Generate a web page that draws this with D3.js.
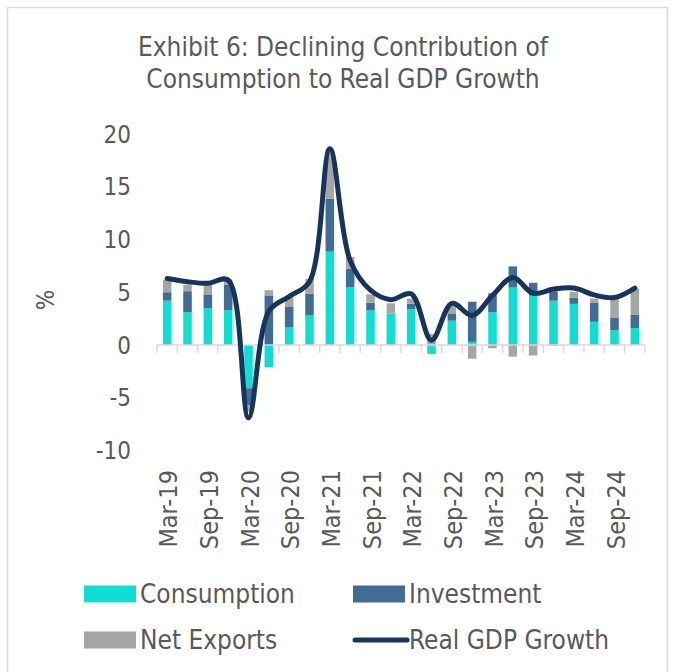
<!DOCTYPE html>
<html>
<head>
<meta charset="utf-8">
<script src="https://cdn.jsdelivr.net/npm/d3@7"></script>
<style>
  html, body { margin: 0; padding: 0; background: #fff; }
  svg { display: block; }
  text { font-family: "DejaVu Sans Condensed", "DejaVu Sans", sans-serif; font-stretch: condensed; fill: #595959; }
</style>
</head>
<body>
<svg id="chart" width="674" height="672"></svg>
<script>
const categories = ["Mar-19","Jun-19","Sep-19","Dec-19","Mar-20","Jun-20","Sep-20","Dec-20",
  "Mar-21","Jun-21","Sep-21","Dec-21","Mar-22","Jun-22","Sep-22","Dec-22",
  "Mar-23","Jun-23","Sep-23","Dec-23","Mar-24","Jun-24","Sep-24","Dec-24"];
const consumption = [4.2, 3.1, 3.5, 3.3, -4.1, -2.1, 1.7, 2.8, 8.85, 5.5, 3.3, 3.0, 3.4, -0.85, 2.3, 0.3, 3.1, 5.45, 4.7, 4.2, 3.9, 2.2, 1.4, 1.6];
const investment  = [0.8, 2.0, 1.3, 2.4, -1.6, 4.7, 1.95, 2.05, 5.0, 1.75, 0.7, 0.0, 0.5, 0.0, 0.7, 3.8, 1.8, 2.0, 1.2, 0.9, 0.6, 1.8, 1.2, 1.25];
const netExports  = [1.2, 0.6, 0.9, 0.5, -0.6, 0.5, 0.95, 1.4, 4.7, 1.1, 0.8, 0.95, 0.5, 1.05, 0.7, -1.3, -0.3, -1.1, -1.0, -0.1, 0.55, 0.4, 1.75, 2.5];
const gdpGrowth   = [6.3, 6.0, 5.85, 6.15, -6.9, 3.2, 4.6, 6.0, 18.6, 8.0, 5.2, 4.3, 4.85, 0.45, 3.95, 2.8, 4.7, 6.4, 4.9, 5.3, 5.4, 4.75, 4.5, 5.4];
const yTicks = [-10, -5, 0, 5, 10, 15, 20];
const xLabels = ["Mar-19","Sep-19","Mar-20","Sep-20","Mar-21","Sep-21","Mar-22","Sep-22","Mar-23","Sep-23","Mar-24","Sep-24"];
const seriesNames = ["Consumption", "Investment", "Net Exports"];
const title = ["Exhibit 6: Declining Contribution of", "Consumption to Real GDP Growth"];

const colors = { "Consumption": "#11DDD3", "Investment": "#416C94", "Net Exports": "#A6A6A6" };
const lineColor = "#17355A";

const svg = d3.select("#chart");

// outer border
svg.append("rect").attr("x", 7.5).attr("y", 7.5).attr("width", 660).attr("height", 700)
  .attr("fill", "none").attr("stroke", "#D9D9D9").attr("stroke-width", 1.5);

// title
svg.append("g").selectAll("text").data(title).join("text")
  .attr("x", 343).attr("y", (d, i) => 56 + i * 32)
  .attr("text-anchor", "middle").attr("font-size", 26).text(d => d);

const x = d3.scaleBand().domain(categories).range([157, 645]).paddingInner(0.58).paddingOuter(0.29);
const y = d3.scaleLinear().domain([-10, 20]).range([450.5, 134]);

const table = categories.map((c, i) => ({ cat: c, "Consumption": consumption[i], "Investment": investment[i], "Net Exports": netExports[i] }));
const stacked = d3.stack().keys(seriesNames).offset(d3.stackOffsetDiverging)(table);

// bars
svg.append("g").selectAll("g").data(stacked).join("g")
  .attr("fill", d => colors[d.key])
  .selectAll("rect").data(d => d).join("rect")
  .attr("x", d => x(d.data.cat))
  .attr("width", x.bandwidth())
  .attr("y", d => y(Math.max(d[0], d[1])))
  .attr("height", d => Math.abs(y(d[0]) - y(d[1])));

// x axis at zero
const step = x.step();
const axisG = svg.append("g").attr("stroke", "#D9D9D9").attr("stroke-width", 1.5);
axisG.append("line").attr("x1", 157).attr("x2", 645).attr("y1", y(0)).attr("y2", y(0));
axisG.selectAll("line.tick").data(d3.range(categories.length + 1)).join("line")
  .attr("class", "tick")
  .attr("x1", i => 157 + i * step).attr("x2", i => 157 + i * step)
  .attr("y1", y(0)).attr("y2", y(0) + 8);

// y tick labels
svg.append("g").selectAll("text").data(yTicks).join("text")
  .attr("x", 131).attr("y", d => y(d)).attr("dy", "0.36em")
  .attr("text-anchor", "end").attr("font-size", 24).text(d => d);

// y axis title
svg.append("text").attr("transform", "translate(45,300) rotate(-90)")
  .attr("text-anchor", "middle").attr("dy", "0.36em").attr("font-size", 24).text("%");

// x labels
svg.append("g").selectAll("text").data(xLabels).join("text")
  .attr("transform", d => `translate(${x(d) + x.bandwidth() / 2 + 1},470) rotate(-90)`)
  .attr("text-anchor", "end").attr("dy", "0.36em").attr("font-size", 25).text(d => d);

// GDP line
const line = d3.line()
  .x((d, i) => x(categories[i]) + x.bandwidth() / 2)
  .y(d => y(d))
  .curve(d3.curveCatmullRom.alpha(0.5));
svg.append("path").datum(gdpGrowth).attr("d", line)
  .attr("fill", "none").attr("stroke", lineColor).attr("stroke-width", 5)
  .attr("stroke-linecap", "round").attr("stroke-linejoin", "round");

// legend
const legendItems = [
  { name: "Consumption", type: "rect", x: 84, y: 594 },
  { name: "Investment", type: "rect", x: 353, y: 594 },
  { name: "Net Exports", type: "rect", x: 84, y: 640 },
  { name: "Real GDP Growth", type: "line", x: 353, y: 640 }
];
const lg = svg.append("g").selectAll("g").data(legendItems).join("g")
  .attr("transform", d => `translate(${d.x},${d.y})`);
lg.filter(d => d.type === "rect").append("rect")
  .attr("x", 0).attr("y", -8.5).attr("width", 52).attr("height", 17)
  .attr("fill", d => colors[d.name]);
lg.filter(d => d.type === "line").append("line")
  .attr("x1", 2).attr("x2", 54).attr("y1", 0).attr("y2", 0)
  .attr("stroke", lineColor).attr("stroke-width", 5).attr("stroke-linecap", "round");
lg.append("text").attr("x", 56).attr("dy", "0.36em").attr("font-size", 26).text(d => d.name);
</script>
</body>
</html>
